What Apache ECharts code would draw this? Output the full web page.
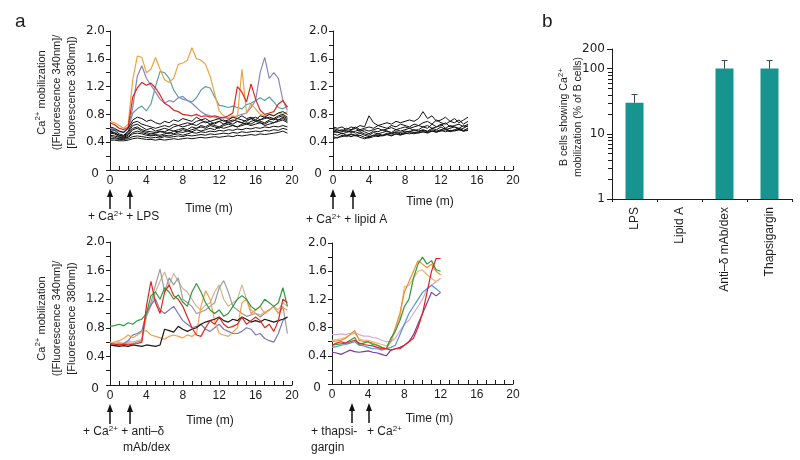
<!DOCTYPE html>
<html>
<head>
<meta charset="utf-8">
<script src="https://cdn.jsdelivr.net/npm/echarts@6/dist/echarts.min.js"></script>
<style>
  html, body { margin: 0; padding: 0; background: #fff; }
  #main { width: 800px; height: 460px; }
</style>
</head>
<body>
<div id="main"></div>
<script>
// ---------- data ----------
// panel a, LPS: one value every 0.5 min from t = 0
const lpsStep = 0.5;
const lpsOrange = [0.70,0.68,0.64,0.60,0.66,1.30,1.64,1.62,1.40,1.45,1.62,1.45,1.30,1.26,1.32,1.52,1.54,1.58,1.76,1.60,1.58,1.52,1.35,1.10,0.85,0.78,0.75,0.78,0.76,1.45,0.82,0.95,0.88,0.80,0.78,0.80,0.78,0.82,0.80,0.84];
const lpsTeal = [0.60,0.58,0.56,0.55,0.60,0.82,0.88,0.92,0.85,0.95,1.20,1.42,1.40,1.32,1.15,1.05,1.02,1.00,0.98,1.04,1.15,1.20,1.18,1.05,0.93,0.92,0.90,0.92,0.90,0.88,0.94,0.96,1.00,1.04,1.00,1.05,0.98,0.90,0.88,0.92];
const lpsPurple = [0.60,0.58,0.55,0.54,0.60,0.90,1.35,1.50,1.32,1.22,1.12,1.02,0.96,1.00,0.98,1.04,1.06,1.00,0.96,0.90,0.84,0.80,0.78,0.76,0.74,0.76,0.74,0.76,0.78,0.80,0.82,0.90,1.00,1.40,1.62,1.32,1.40,1.32,1.00,0.86];
const lpsRed = [0.68,0.65,0.60,0.58,0.62,1.05,1.18,1.26,1.22,1.25,1.18,1.08,0.96,0.92,0.86,0.84,0.80,0.79,0.78,0.80,0.77,0.78,0.76,0.78,0.76,0.75,0.78,0.82,1.20,1.12,0.98,1.24,1.02,0.86,0.80,0.82,0.84,0.95,1.00,0.90];
const lpsBlack = [
  [0.62,0.60,0.56,0.54,0.60,0.72,0.76,0.74,0.70,0.72,0.68,0.66,0.70,0.68,0.72,0.70,0.74,0.72,0.70,0.76,0.72,0.74,0.70,0.72,0.74,0.70,0.72,0.76,0.74,0.78,0.74,0.76,0.72,0.78,0.76,0.80,0.78,0.82,0.84,0.80],
  [0.58,0.57,0.52,0.50,0.56,0.68,0.70,0.66,0.64,0.62,0.60,0.62,0.64,0.62,0.66,0.64,0.66,0.68,0.66,0.70,0.72,0.68,0.70,0.66,0.70,0.72,0.68,0.70,0.74,0.72,0.70,0.74,0.76,0.72,0.74,0.76,0.74,0.78,0.80,0.76],
  [0.56,0.54,0.50,0.49,0.54,0.64,0.66,0.62,0.58,0.60,0.56,0.58,0.60,0.58,0.62,0.64,0.62,0.64,0.66,0.64,0.68,0.70,0.66,0.68,0.70,0.66,0.70,0.72,0.70,0.68,0.72,0.74,0.70,0.72,0.76,0.74,0.72,0.76,0.78,0.74],
  [0.55,0.53,0.50,0.48,0.52,0.60,0.62,0.58,0.56,0.55,0.54,0.56,0.55,0.58,0.56,0.58,0.60,0.58,0.62,0.60,0.64,0.62,0.66,0.64,0.62,0.66,0.68,0.66,0.70,0.68,0.66,0.70,0.72,0.70,0.68,0.72,0.74,0.72,0.76,0.72],
  [0.53,0.52,0.48,0.47,0.50,0.58,0.60,0.56,0.54,0.52,0.53,0.55,0.54,0.52,0.56,0.55,0.58,0.56,0.58,0.60,0.62,0.60,0.64,0.62,0.60,0.64,0.66,0.64,0.62,0.66,0.68,0.66,0.70,0.68,0.66,0.70,0.68,0.72,0.74,0.70],
  [0.50,0.49,0.47,0.46,0.48,0.54,0.56,0.54,0.52,0.50,0.51,0.50,0.52,0.54,0.52,0.55,0.54,0.56,0.55,0.58,0.56,0.58,0.60,0.58,0.62,0.60,0.62,0.64,0.62,0.64,0.66,0.64,0.66,0.68,0.64,0.66,0.68,0.70,0.72,0.68],
  [0.48,0.47,0.45,0.45,0.47,0.52,0.53,0.52,0.50,0.49,0.50,0.48,0.50,0.49,0.51,0.52,0.50,0.52,0.54,0.53,0.55,0.54,0.56,0.55,0.57,0.56,0.58,0.57,0.59,0.58,0.60,0.59,0.61,0.60,0.62,0.61,0.63,0.62,0.64,0.62],
  [0.45,0.45,0.44,0.44,0.45,0.48,0.49,0.48,0.47,0.46,0.47,0.46,0.48,0.47,0.48,0.49,0.48,0.50,0.49,0.50,0.51,0.50,0.52,0.51,0.52,0.53,0.52,0.54,0.53,0.55,0.54,0.55,0.56,0.55,0.57,0.56,0.58,0.57,0.60,0.58],
  [0.43,0.43,0.42,0.42,0.43,0.45,0.46,0.45,0.44,0.44,0.43,0.44,0.43,0.44,0.45,0.44,0.45,0.46,0.45,0.46,0.47,0.46,0.47,0.48,0.47,0.48,0.49,0.48,0.50,0.49,0.50,0.51,0.50,0.52,0.51,0.52,0.53,0.54,0.56,0.53]
];
const lpsArrowTimes = [0, 2.2];

// panel a, lipid A: every 0.5 min, 0 to 15 min
const lipidStep = 0.5;
const lipidBlack = [
  [0.62,0.60,0.62,0.58,0.62,0.60,0.64,0.62,0.78,0.68,0.64,0.66,0.68,0.66,0.70,0.68,0.70,0.72,0.70,0.74,0.84,0.74,0.78,0.70,0.72,0.76,0.70,0.74,0.68,0.72,0.76],
  [0.60,0.58,0.56,0.60,0.58,0.62,0.58,0.60,0.62,0.60,0.64,0.62,0.60,0.64,0.62,0.66,0.64,0.62,0.66,0.64,0.68,0.70,0.66,0.72,0.68,0.66,0.70,0.68,0.72,0.66,0.70],
  [0.58,0.56,0.58,0.55,0.57,0.60,0.56,0.58,0.56,0.58,0.60,0.57,0.59,0.61,0.58,0.60,0.62,0.60,0.62,0.64,0.62,0.60,0.66,0.62,0.64,0.68,0.62,0.64,0.66,0.62,0.66],
  [0.56,0.54,0.55,0.57,0.54,0.56,0.58,0.55,0.52,0.56,0.55,0.58,0.56,0.54,0.58,0.56,0.58,0.60,0.57,0.58,0.62,0.64,0.60,0.62,0.66,0.60,0.64,0.62,0.60,0.64,0.62],
  [0.54,0.55,0.52,0.54,0.56,0.53,0.55,0.52,0.50,0.54,0.52,0.54,0.56,0.53,0.55,0.54,0.56,0.55,0.58,0.56,0.58,0.56,0.60,0.58,0.62,0.58,0.60,0.62,0.58,0.60,0.64],
  [0.52,0.50,0.53,0.50,0.52,0.50,0.53,0.50,0.48,0.50,0.52,0.50,0.53,0.52,0.54,0.52,0.54,0.56,0.54,0.55,0.57,0.55,0.58,0.56,0.58,0.60,0.56,0.58,0.60,0.57,0.60],
  [0.48,0.46,0.50,0.48,0.51,0.49,0.50,0.47,0.46,0.48,0.50,0.49,0.51,0.50,0.52,0.51,0.52,0.54,0.52,0.54,0.55,0.53,0.56,0.55,0.56,0.58,0.55,0.57,0.58,0.56,0.58],
  [0.45,0.47,0.48,0.50,0.48,0.50,0.47,0.45,0.47,0.50,0.48,0.50,0.51,0.49,0.52,0.50,0.53,0.52,0.54,0.53,0.55,0.54,0.56,0.54,0.57,0.55,0.57,0.56,0.58,0.56,0.57]
];
const lipidArrowTimes = [0, 2.2];

// panel a, anti-delta mAb/dex: every 0.5 min from t = 0
const antiStep = 0.5;
const antiGreen = [0.82,0.83,0.85,0.83,0.87,0.85,0.90,0.92,1.00,1.25,1.30,1.20,1.36,1.30,1.20,1.26,1.16,1.10,1.30,1.42,1.30,1.15,1.05,1.00,1.05,0.96,1.00,1.10,1.20,1.25,1.20,1.10,1.05,1.10,1.20,1.15,1.10,1.15,1.36,1.10];
const antiGray = [0.58,0.57,0.58,0.57,0.59,0.58,0.60,0.62,0.98,1.15,1.40,1.62,1.30,1.50,1.40,1.50,1.20,1.15,1.10,1.00,1.02,1.05,1.10,1.15,1.36,1.46,1.30,1.10,1.05,1.00,0.96,0.98,1.00,0.95,1.00,1.05,1.10,1.00,1.10,0.72];
const antiTan = [0.60,0.58,0.60,0.58,0.62,0.60,0.62,0.64,0.95,1.10,1.30,1.45,1.58,1.40,1.56,1.45,1.35,1.30,1.20,1.10,1.05,1.12,1.15,1.30,1.40,1.20,1.10,1.15,1.20,1.40,1.20,1.05,1.00,0.98,1.02,1.05,1.10,1.05,1.15,1.10];
const antiOrange = [0.58,0.60,0.62,0.65,0.70,0.66,0.70,0.74,0.76,0.70,0.68,0.66,0.64,0.68,0.70,0.68,0.66,0.70,0.68,0.72,1.10,1.32,1.20,0.90,0.72,0.70,0.68,0.74,0.80,1.15,1.20,1.00,1.05,1.10,1.00,1.05,1.10,1.00,1.08,1.05];
const antiPurple = [0.56,0.55,0.56,0.58,0.62,0.70,0.72,0.76,1.00,1.12,1.20,1.05,1.00,1.05,1.10,1.00,0.90,0.85,0.80,0.82,0.85,0.78,0.75,0.80,0.85,0.78,0.75,0.72,0.72,0.75,0.80,0.78,0.70,0.72,0.65,0.62,0.60,0.72,0.90,0.95];
const antiRed = [0.58,0.57,0.56,0.57,0.56,0.57,0.58,0.60,1.10,1.45,1.15,1.00,1.30,1.40,1.25,1.20,1.10,0.95,0.80,0.70,0.68,0.80,0.90,0.85,0.95,0.85,0.80,0.82,0.85,0.95,0.85,0.90,0.95,0.90,0.80,0.85,0.75,0.90,1.20,1.15];
const antiBlack = [0.56,0.55,0.54,0.55,0.54,0.56,0.55,0.54,0.56,0.55,0.54,0.56,0.78,0.76,0.74,0.82,0.78,0.75,0.78,0.80,0.85,0.88,0.90,0.92,0.95,0.90,0.88,0.92,0.90,0.95,0.92,0.88,0.90,0.88,0.92,0.90,0.88,0.90,0.92,0.95];
const antiArrowTimes = [0, 2.2];

// panel a, thapsigargin: every 0.5 min, 0 to 12 min
const thapStep = 0.5;
const thapPink = [0.70,0.70,0.71,0.70,0.72,0.73,0.70,0.68,0.68,0.66,0.65,0.62,0.60,0.60,0.65,0.75,0.85,0.90,1.00,1.10,1.20,1.35,1.40,1.45,1.50];
const thapPurple = [0.45,0.44,0.42,0.45,0.48,0.46,0.45,0.46,0.47,0.45,0.44,0.42,0.40,0.48,0.50,0.52,0.55,0.60,0.70,0.85,1.00,1.15,1.30,1.25,1.30];
const thapBlue = [0.52,0.53,0.55,0.56,0.58,0.60,0.55,0.54,0.52,0.50,0.50,0.48,0.50,0.52,0.55,0.70,0.85,1.00,1.10,1.20,1.30,1.35,1.40,1.35,1.30];
const thapSalmon = [0.62,0.63,0.64,0.66,0.70,0.72,0.64,0.62,0.62,0.60,0.58,0.56,0.54,0.60,0.75,0.95,1.38,1.40,1.50,1.60,1.62,1.55,1.50,1.45,1.50];
const thapOrange = [0.60,0.61,0.62,0.65,0.70,0.76,0.62,0.60,0.60,0.58,0.55,0.52,0.50,0.60,0.80,1.00,1.30,1.45,1.60,1.75,1.70,1.65,1.70,1.60,1.55];
const thapGreen = [0.55,0.56,0.57,0.58,0.62,0.66,0.56,0.58,0.60,0.56,0.55,0.52,0.50,0.65,0.75,0.90,1.10,1.20,1.50,1.70,1.80,1.70,1.75,1.62,1.60];
const thapRed = [0.55,0.58,0.60,0.58,0.60,0.62,0.58,0.56,0.55,0.54,0.52,0.50,0.50,0.48,0.50,0.50,0.55,0.60,0.65,0.80,1.00,1.30,1.60,1.78,1.78];
const thapArrowTimes = [2.2, 4.1];

// panel b
const barCategories = ['LPS', 'Lipid A', 'Anti\u2013\u03b4 mAb/dex', 'Thapsigargin'];
const barPercent = [30, null, 100, 100];
const barErrTop = [40, null, 133, 133];
const logMajorTicks = [1, 10, 100, 200];
const logMinorTicks = [2, 3, 4, 5, 6, 7, 8, 9, 20, 30, 40, 50, 60, 70, 80, 90];

// ---------- chart ----------
const FONT = '"Liberation Sans", Arial, Helvetica, sans-serif';
const NUMFONT = '"DejaVu Sans", Verdana, sans-serif';
const INK = '#1c1c1c';
const supStyle = { fontSize: 8, fontFamily: FONT, color: INK, verticalAlign: 'top', lineHeight: 8 };
const ratioName = 'Ca{sup|2+} mobilization\n([Fluorescence 340nm]/\n[Fluorescence 380nm])';

const chart = echarts.init(document.getElementById('main'));

function timeAxis(grid, gap, shift) {
  return {
    type: 'value', gridIndex: grid, min: 0, max: 20, interval: 4,
    name: 'Time (m)', nameLocation: 'middle', nameGap: gap,
    nameTextStyle: { fontSize: 12, color: INK, fontFamily: FONT, padding: [0, 0, 0, shift * 2] },
    axisLine: { show: true, onZero: false, lineStyle: { color: INK, width: 1 } },
    axisTick: { show: true, inside: true, length: 4, lineStyle: { color: INK } },
    minorTick: { show: true, splitNumber: 4, length: 4, lineStyle: { color: INK } },
    axisLabel: { fontSize: 12, color: INK, fontFamily: FONT, margin: 5 },
    splitLine: { show: false }
  };
}

function ratioAxis(grid, withName, namePad) {
  return {
    type: 'value', gridIndex: grid, min: 0, max: 2, interval: 0.4,
    name: withName ? ratioName : '', nameLocation: 'middle', nameRotate: 90, nameGap: 31,
    nameMoveOverlap: false,
    nameTextStyle: { fontSize: 11, color: INK, fontFamily: FONT, lineHeight: 15, align: 'center',
      padding: namePad, rich: { sup: supStyle } },
    axisLine: { show: true, onZero: false, lineStyle: { color: INK, width: 1 } },
    axisTick: { show: true, length: 4, lineStyle: { color: INK } },
    minorTick: { show: true, splitNumber: 2, length: 4, lineStyle: { color: INK } },
    axisLabel: {
      fontSize: 12, color: INK, fontFamily: NUMFONT, margin: 5,
      formatter: v => v === 0 ? '{z|0}' : v.toFixed(1),
      rich: { z: { fontSize: 12, color: INK, fontFamily: NUMFONT, padding: [8, 6, 0, 0] } }
    },
    splitLine: { show: false }
  };
}

function trace(grid, step, values, color, width) {
  return {
    type: 'line', xAxisIndex: grid, yAxisIndex: grid,
    data: values.map((v, i) => [i * step, v]),
    symbol: 'none', silent: true, animation: false,
    lineStyle: { color: color, width: width }
  };
}

const series = [];
[[lpsTeal, '#5f9ea3'], [lpsPurple, '#8985bf'], [lpsOrange, '#eba443'], [lpsRed, '#e0251d']]
  .forEach(([v, c]) => series.push(trace(0, lpsStep, v, c, 1.2)));
lpsBlack.forEach(v => series.push(trace(0, lpsStep, v, '#111', 1)));
lipidBlack.forEach(v => series.push(trace(1, lipidStep, v, '#111', 1)));
[[antiTan, '#cdb69a'], [antiGray, '#9c9c9c'], [antiPurple, '#7b78b8'], [antiOrange, '#f0a050'],
 [antiBlack, '#1a1a1a'], [antiGreen, '#2e9a3c'], [antiRed, '#e4231c']]
  .forEach(([v, c]) => series.push(trace(2, antiStep, v, c, 1.2)));
[[thapPink, '#d9a9d6'], [thapPurple, '#7a3a9c'], [thapBlue, '#4f96d6'], [thapSalmon, '#f4b274'],
 [thapOrange, '#ee8f2f'], [thapGreen, '#2d9a3a'], [thapRed, '#e42020']]
  .forEach(([v, c]) => series.push(trace(3, thapStep, v, c, 1.2)));

series.push({
  type: 'bar', xAxisIndex: 4, yAxisIndex: 4, data: barPercent, barWidth: 18,
  itemStyle: { color: '#17948f' }, silent: true, animation: false
});
series.push({
  type: 'custom', xAxisIndex: 4, yAxisIndex: 4, silent: true, animation: false, z: 5,
  data: barPercent.map((v, i) => [i, v, barErrTop[i]]).filter(d => d[1] != null),
  encode: { x: 0, y: [1, 2] },
  renderItem: (params, api) => {
    const base = api.coord([api.value(0), api.value(1)]);
    const top = api.coord([api.value(0), api.value(2)]);
    const st = { stroke: '#34494a', lineWidth: 1 };
    return { type: 'group', children: [
      { type: 'line', shape: { x1: base[0], y1: base[1], x2: top[0], y2: top[1] }, style: st },
      { type: 'line', shape: { x1: top[0] - 3, y1: top[1], x2: top[0] + 3, y2: top[1] }, style: st }
    ] };
  }
});

const option = {
  animation: false,
  backgroundColor: '#fff',
  textStyle: { fontFamily: FONT },
  grid: [
    { left: 110, top: 31, width: 182, height: 139 },
    { left: 333, top: 31, width: 180, height: 139 },
    { left: 110, top: 242, width: 182, height: 143 },
    { left: 332, top: 243, width: 181, height: 141 },
    { left: 612, top: 49, width: 180, height: 150 }
  ],
  xAxis: [
    timeAxis(0, 33, 8), timeAxis(1, 26, 7), timeAxis(2, 30, 9), timeAxis(3, 29, 7),
    {
      type: 'category', gridIndex: 4, data: barCategories, boundaryGap: true,
      axisLine: { show: true, lineStyle: { color: INK } },
      axisTick: { show: true, length: 3, alignWithLabel: false, lineStyle: { color: INK } },
      axisLabel: { rotate: 90, fontSize: 12, color: INK, fontFamily: FONT, margin: 8 }
    }
  ],
  yAxis: [
    ratioAxis(0, true, [0, 0, 0, 16]), ratioAxis(1, false), ratioAxis(2, true, [0, 10, 0, 0]), ratioAxis(3, false),
    {
      type: 'log', gridIndex: 4, logBase: 10, min: 1, max: 200,
      name: 'B cells showing Ca{sup|2+}\nmobilization (% of B cells)',
      nameLocation: 'middle', nameRotate: 90, nameGap: 27, nameMoveOverlap: false,
      nameTextStyle: { fontSize: 10.5, color: INK, fontFamily: FONT, lineHeight: 14, padding: [0, 0, 0, 14],
        rich: { sup: supStyle } },
      axisLine: { show: true, lineStyle: { color: INK } },
      axisTick: { show: true, length: 5, customValues: logMajorTicks, lineStyle: { color: INK } },
      axisLabel: { fontSize: 12, color: INK, fontFamily: NUMFONT, margin: 7, customValues: logMajorTicks },
      splitLine: { show: false }
    }
  ],
  series: series
};

chart.setOption(option);

// ---------- treatment arrows and labels under the time axes ----------
const annotations = [
  { grid: 0, times: lpsArrowTimes, texts: [{ s: '+ Ca{sup|2+} + LPS', at: 0, dx: -22, dy: 47 }] },
  { grid: 1, times: lipidArrowTimes, texts: [{ s: '+ Ca{sup|2+} + lipid A', at: 0, dx: -27, dy: 50 }] },
  { grid: 2, times: antiArrowTimes, texts: [
    { s: '+ Ca{sup|2+} + anti\u2013\u03b4', at: 0, dx: -27, dy: 47 },
    { s: 'mAb/dex', at: 0, dx: 13, dy: 63 }] },
  { grid: 3, times: thapArrowTimes, texts: [
    { s: '+ thapsi-', at: 0, dx: -41, dy: 48 },
    { s: '+ Ca{sup|2+}', at: 1, dx: -2, dy: 48 },
    { s: 'gargin', at: 0, dx: -41, dy: 64 }] }
];

const graphics = [];
annotations.forEach(a => {
  const xs = a.times.map(t => Math.round(chart.convertToPixel({ gridIndex: a.grid }, [t, 0])[0]));
  const axisY = Math.round(chart.convertToPixel({ gridIndex: a.grid }, [0, 0])[1]);
  xs.forEach(x => {
    const y0 = axisY + 19, y1 = axisY + 39;
    graphics.push({ type: 'line', silent: true,
      shape: { x1: x, y1: y0 + 5, x2: x, y2: y1 }, style: { stroke: '#111', lineWidth: 1.5 } });
    graphics.push({ type: 'polygon', silent: true,
      shape: { points: [[x, y0], [x - 3, y0 + 8], [x + 3, y0 + 8]] }, style: { fill: '#111' } });
  });
  a.texts.forEach(t => {
    graphics.push({ type: 'text', silent: true, x: xs[t.at] + t.dx, y: axisY + t.dy,
      style: { text: t.s, fontSize: 12, fontFamily: FONT, fill: INK, align: 'left', verticalAlign: 'middle',
        lineHeight: 15, rich: { sup: { fontSize: 8, fontFamily: FONT, fill: INK, verticalAlign: 'top', lineHeight: 8 } } } });
  });
});

// minor ticks of the log axis (2..9, 20..90), placed through the axis scale
logMinorTicks.forEach(v => {
  const y = Math.round(chart.convertToPixel({ yAxisIndex: 4 }, v)) + 0.5;
  graphics.push({ type: 'line', silent: true, z: 10,
    shape: { x1: 608, y1: y, x2: 612, y2: y }, style: { stroke: INK, lineWidth: 1 } });
});

graphics.push({ type: 'text', silent: true, x: 15, y: 22,
  style: { text: 'a', fontSize: 19, fontFamily: FONT, fill: INK, verticalAlign: 'middle' } });
graphics.push({ type: 'text', silent: true, x: 542, y: 22,
  style: { text: 'b', fontSize: 19, fontFamily: FONT, fill: INK, verticalAlign: 'middle' } });

chart.setOption({ graphic: graphics });
</script>
</body>
</html>
